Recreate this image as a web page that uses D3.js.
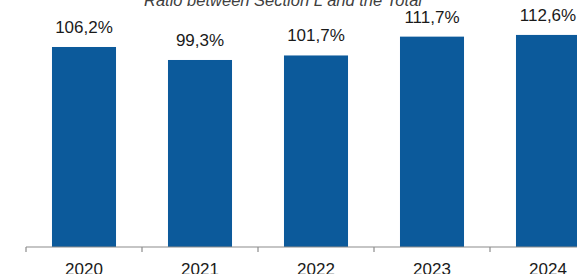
<!DOCTYPE html>
<head>
    <meta charset="utf-8">
    <title>Ratio between Section L and the Total</title>
<style>
    body {
        margin: 0;
        background: #fff;
        font-family: "Liberation Sans", Arial, sans-serif;
    }

    .title {
        font-size: 16.5px;
        font-style: italic;
        fill: #404040;
    }

    .value {
        font-size: 17px;
        fill: #1a1a1a;
    }

    .tick text {
        font-size: 17px;
        fill: #1a1a1a;
    }
</style>
</head>
<body>
<script src="https://d3js.org/d3.v7.min.js"></script>
<script>

    const years = ['2020', '2021', '2022', '2023', '2024'];
    const ratios = [106.2, 99.3, 101.7, 111.7, 112.6];
    const labels = ['106,2%', '99,3%', '101,7%', '111,7%', '112,6%'];

    const width = 577, height = 274;
    const margin = {left: 26, bottom: 27};
    const baseY = height - margin.bottom;

    const svg = d3.select('body').append('svg')
        .attr('width', width)
        .attr('height', height);

    const x = d3.scaleBand().domain(years).range([margin.left, margin.left + 580]).paddingInner(0.448).paddingOuter(0.224);

    const y = d3.scaleLinear().domain([0, 120]).range([baseY, baseY - 226]);

    svg.selectAll('.bar')
        .data(years)
        .join('rect')
        .attr('class', 'bar')
        .attr('x', d => x(d))
        .attr('width', x.bandwidth())
        .attr('y', (d, i) => y(ratios[i]))
        .attr('height', (d, i) => baseY - y(ratios[i]))
        .attr('fill', '#0C5A9B');

    svg.selectAll('.value')
        .data(years)
        .join('text')
        .attr('class', 'value')
        .attr('text-anchor', 'middle')
        .attr('x', d => x(d) + x.bandwidth() / 2)
        .attr('y', (d, i) => y(ratios[i]) - 14)
        .text((d, i) => labels[i]);

    // axis with ticks between categories
    const axis = svg.append('g').attr('transform', `translate(0,${baseY})`);
    axis.append('line')
        .attr('x1', margin.left).attr('x2', margin.left + 580)
        .attr('stroke', '#8c8c8c').attr('stroke-width', 1.2);

    const step = x.step();
    const edges = d3.range(years.length + 1).map(i => margin.left + i * step);
    axis.selectAll('.edge')
        .data(edges)
        .join('line')
        .attr('x1', d => d).attr('x2', d => d)
        .attr('y1', 0).attr('y2', 5)
        .attr('stroke', '#8c8c8c').attr('stroke-width', 1.2);

    axis.selectAll('.tick')
        .data(years)
        .join('g')
        .attr('class', 'tick')
        .append('text')
        .attr('text-anchor', 'middle')
        .attr('x', d => x(d) + x.bandwidth() / 2)
        .attr('y', 28)
        .text(d => d);

    svg.append('text')
        .attr('class', 'title')
        .attr('text-anchor', 'middle')
        .attr('x', 283)
        .attr('y', 6)
        .text('Ratio between Section L and the Total');
</script>
